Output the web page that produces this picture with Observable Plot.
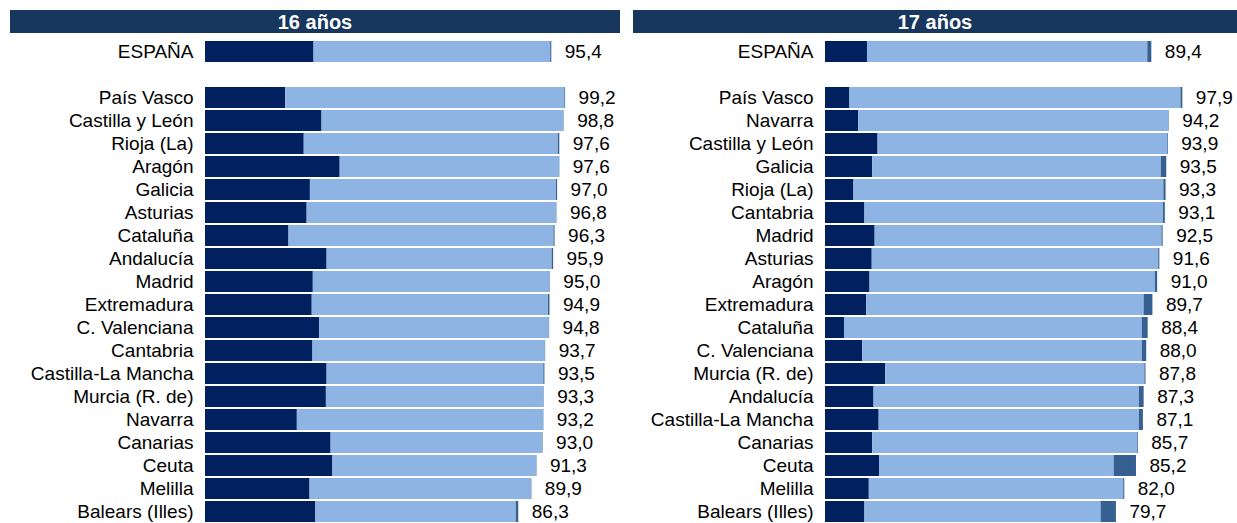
<!DOCTYPE html>
<html>
<head>
<meta charset="utf-8">
<script src="https://cdn.jsdelivr.net/npm/d3@7"></script>
<script src="https://cdn.jsdelivr.net/npm/@observablehq/plot@0.6"></script>
<style>
  html, body { margin: 0; padding: 0; background: #fff; }
  #wrap { position: relative; width: 1237px; height: 523px; overflow: hidden; font-family: "Liberation Sans", Arial, sans-serif; }
  .hdr { position: absolute; top: 10px; height: 23px; background: #17375E; color: #fff; font-weight: bold; font-size: 20px; line-height: 24px; text-align: center; }
  .panel { position: absolute; top: 34px; }
</style>
</head>
<body>
<div id="wrap">
  <div class="hdr" style="left:10px;width:610px;">16 años</div>
  <div class="hdr" style="left:633px;width:604px;">17 años</div>
  <div class="panel" id="p16" style="left:0px;"></div>
  <div class="panel" id="p17" style="left:620px;"></div>
</div>
<script>
// ---- 16 años ----
const regions16 = ["ESPAÑA", " ", "País Vasco", "Castilla y León", "Rioja (La)", "Aragón", "Galicia", "Asturias", "Cataluña", "Andalucía", "Madrid", "Extremadura", "C. Valenciana", "Cantabria", "Castilla-La Mancha", "Murcia (R. de)", "Navarra", "Canarias", "Ceuta", "Melilla", "Balears (Illes)"];
const total16 = [95.4, null, 99.2, 98.8, 97.6, 97.6, 97.0, 96.8, 96.3, 95.9, 95.0, 94.9, 94.8, 93.7, 93.5, 93.3, 93.2, 93.0, 91.3, 89.9, 86.3];
const dark16  = [29.9, null, 22.1, 32.1, 27.2, 37.1, 28.9, 28.0, 23.0, 33.5, 29.7, 29.4, 31.4, 29.6, 33.5, 33.3, 25.3, 34.6, 35.1, 28.8, 30.4];
const mid16   = [0.3, null, 0.2, 0.1, 0.4, 0.1, 0.3, 0.1, 0.3, 0.4, 0.1, 0.4, 0.1, 0.1, 0.3, 0.1, 0.1, 0.1, 0.1, 0.1, 0.7];

// ---- 17 años ----
const regions17 = ["ESPAÑA", " ", "País Vasco", "Navarra", "Castilla y León", "Galicia", "Rioja (La)", "Cantabria", "Madrid", "Asturias", "Aragón", "Extremadura", "Cataluña", "C. Valenciana", "Murcia (R. de)", "Andalucía", "Castilla-La Mancha", "Canarias", "Ceuta", "Melilla", "Balears (Illes)"];
const total17 = [89.4, null, 97.9, 94.2, 93.9, 93.5, 93.3, 93.1, 92.5, 91.6, 91.0, 89.7, 88.4, 88.0, 87.8, 87.3, 87.1, 85.7, 85.2, 82.0, 79.7];
const dark17  = [11.5, null, 6.7, 9.1, 14.4, 12.9, 7.8, 10.8, 13.6, 12.8, 12.2, 11.3, 5.2, 10.2, 16.5, 13.3, 14.7, 12.9, 14.8, 12.0, 10.8];
const mid17   = [1.1, null, 0.5, 0.1, 0.2, 1.5, 0.6, 0.5, 0.3, 0.3, 0.6, 2.4, 1.6, 1.2, 0.3, 1.3, 1.1, 0.2, 6.1, 0.3, 4.2];

const segNames = ["a", "b", "c"];
const segColors = ["#002060", "#8DB4E2", "#366092"];

const fmt = v => d3.format(".1f")(v).replace(".", ",");

function panel(regions, total, dark, mid, width, marginRight) {
  const rows = [];
  const labels = [];
  regions.forEach((r, i) => {
    if (total[i] == null) return;
    const light = +(total[i] - dark[i] - mid[i]).toFixed(2);
    rows.push({region: r, seg: "a", value: dark[i]});
    rows.push({region: r, seg: "b", value: light});
    rows.push({region: r, seg: "c", value: mid[i]});
    labels.push({region: r, total: total[i]});
  });
  return Plot.plot({
    width: width,
    height: 490,
    marginLeft: 205,
    marginRight: marginRight,
    marginTop: 4.5,
    marginBottom: 0.5,
    style: {fontFamily: "'Liberation Sans', Arial, sans-serif", fontSize: "19px", color: "#000", background: "#fff"},
    x: {domain: [0, 100], axis: null},
    y: {domain: regions, paddingInner: 0.09, paddingOuter: 0.045, label: null},
    color: {domain: segNames, range: segColors},
    marks: [
      Plot.barX(rows, Plot.stackX({y: "region", x: "value", fill: "seg", order: segNames})),
      Plot.axisY({tickSize: 0, tickPadding: 12, fontSize: 19, label: null, tickFormat: d => d.trim()}),
      Plot.text(labels, {x: "total", y: "region", text: d => fmt(d.total), textAnchor: "start", dx: 13, fontSize: 19, fill: "#000"})
    ]
  });
}

document.getElementById("p16").appendChild(panel(regions16, total16, dark16, mid16, 620, 52));
document.getElementById("p17").appendChild(panel(regions17, total17, dark17, mid17, 617, 47));
</script>
</body>
</html>
